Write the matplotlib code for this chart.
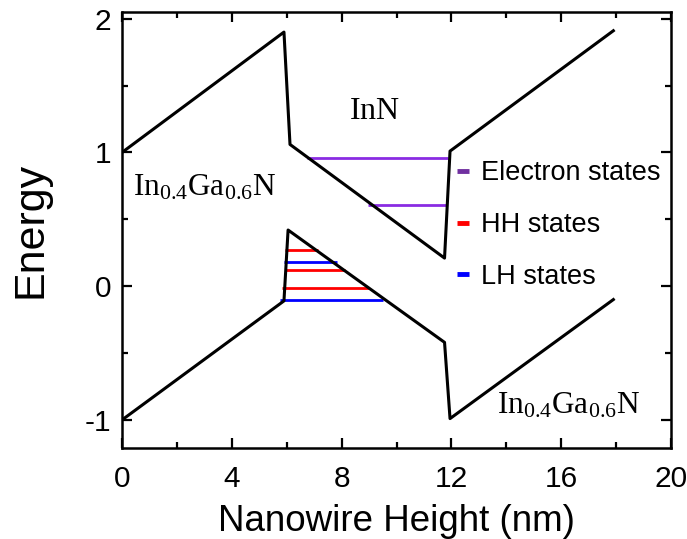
import matplotlib
matplotlib.use("Agg")
import matplotlib.pyplot as plt
from matplotlib.lines import Line2D

# Band-edge profiles (vertices along the nanowire)
cb_x = [0.0, 5.9, 6.12, 11.75, 11.95, 17.9]
cb_y = [1.0, 1.90, 1.06, 0.21, 1.01, 1.91]
vb_x = [0.0, 5.9, 6.05, 11.75, 11.95, 17.9]
vb_y = [-1.0, -0.11, 0.42, -0.42, -0.99, -0.10]

# Confined states: energy, start and end position
e_levels = [0.96, 0.61]
e_start = [6.74, 8.96]
e_end = [11.88, 11.85]

hh_levels = [0.27, 0.12, -0.01]
hh_start = [5.94, 5.94, 5.83]
hh_end = [7.14, 8.12, 8.99]

lh_levels = [0.18, -0.10]
lh_start = [5.9, 5.76]
lh_end = [7.83, 9.50]

legend_labels = ["Electron states", "HH states", "LH states"]

plt.rcParams["font.family"] = ["Liberation Sans", "DejaVu Sans"]
plt.rcParams["axes.unicode_minus"] = False
plt.rcParams["mathtext.fontset"] = "custom"
plt.rcParams["mathtext.rm"] = "Liberation Serif"
plt.rcParams["mathtext.it"] = "Liberation Serif:italic"

fig = plt.figure(figsize=(6.87, 5.39), dpi=100)
ax = fig.add_axes([0.1776, 0.1688, 0.7991, 0.8089])

purple = "#8A2BE2"
red = "#FF0000"
blue = "#0000FF"

for y, x0, x1 in zip(e_levels, e_start, e_end):
    ax.plot([x0, x1], [y, y], color=purple, lw=2.0, solid_capstyle="butt", zorder=2)
for y, x0, x1 in zip(hh_levels, hh_start, hh_end):
    ax.plot([x0, x1], [y, y], color=red, lw=2.0, solid_capstyle="butt", zorder=2)
for y, x0, x1 in zip(lh_levels, lh_start, lh_end):
    ax.plot([x0, x1], [y, y], color=blue, lw=2.0, solid_capstyle="butt", zorder=2)

ax.plot(cb_x, cb_y, color="black", lw=2.2, zorder=3)
ax.plot(vb_x, vb_y, color="black", lw=2.2, zorder=3)

ax.set_xlim(0, 20)
ax.set_ylim(-1.21, 2.05)
ax.set_xticks([0, 4, 8, 12, 16, 20])
ax.set_xticks([2, 6, 10, 14, 18], minor=True)
ax.set_yticks([-1, 0, 1, 2])
ax.set_yticks([-0.5, 0.5, 1.5], minor=True)

ax.tick_params(which="both", direction="in", top=True, right=True, width=1.6, color="black")
ax.tick_params(which="major", length=7)
ax.tick_params(which="minor", length=4)
ax.tick_params(axis="x", which="major", labelsize=21.5, pad=12)
ax.tick_params(axis="y", which="major", labelsize=21.5, pad=8)
for s in ax.spines.values():
    s.set_linewidth(1.8)

ax.set_xlabel("Nanowire Height (nm)", fontsize=26.5, labelpad=8)
ax.set_ylabel("Energy", fontsize=31, labelpad=24)

ax.text(9.2, 1.31, r"$\mathrm{InN}$", fontsize=23, ha="center", va="center")
ax.text(0.4, 0.74, r"$\mathrm{In}_{0.4}\mathrm{Ga}_{0.6}\mathrm{N}$", fontsize=22.5,
        ha="left", va="center")
ax.text(13.66, -0.89, r"$\mathrm{In}_{0.4}\mathrm{Ga}_{0.6}\mathrm{N}$", fontsize=22.5,
        ha="left", va="center")

handles = [Line2D([], [], color=c, lw=3.5, solid_capstyle="butt")
           for c in ["#7030A0", red, blue]]
ax.legend(handles, legend_labels, loc="upper left", bbox_to_anchor=(0.61, 0.66),
          frameon=False, fontsize=19.5, handlelength=0.45, handletextpad=0.45,
          labelspacing=0.95, borderpad=0, borderaxespad=0)

fig.savefig("out.png", dpi=100)
